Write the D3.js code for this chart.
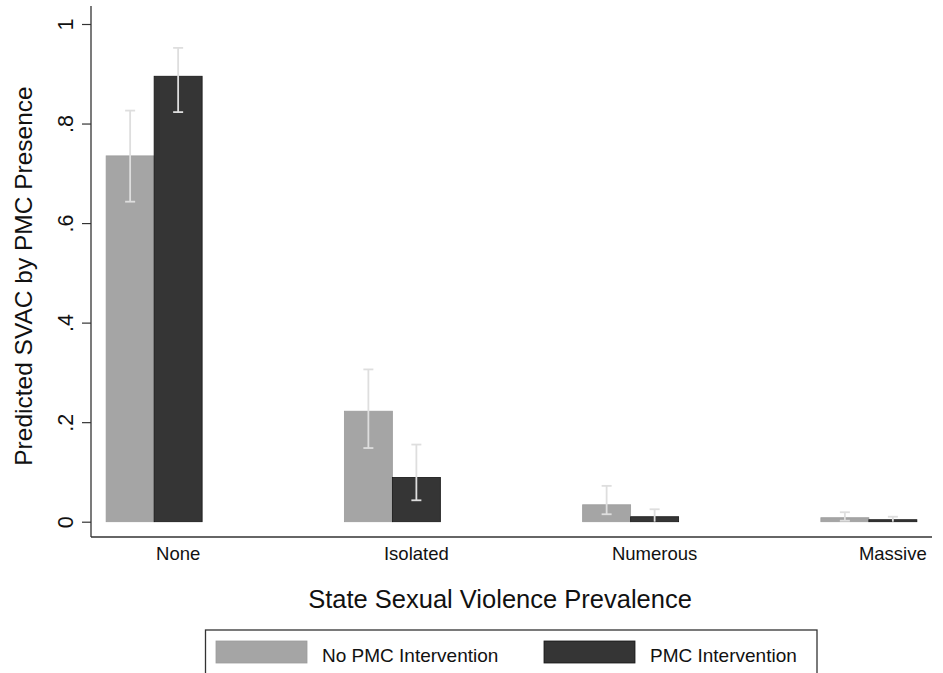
<!DOCTYPE html>
<html>
<head>
<meta charset="utf-8">
<script src="https://cdn.jsdelivr.net/npm/d3@7/dist/d3.min.js"></script>
<style>
  html, body { margin: 0; padding: 0; background: #ffffff; }
  svg { display: block; font-family: "Liberation Sans", Arial, Helvetica, sans-serif; }
</style>
</head>
<body>
<svg id="chart" width="943" height="673"></svg>
<script>
// Predicted probabilities by prevalence level, with 95% confidence bounds
const categories = ["None", "Isolated", "Numerous", "Massive"];
const seriesNames = ["No PMC Intervention", "PMC Intervention"];
const noPmc     = [0.735, 0.222, 0.034, 0.008];
const noPmcLow  = [0.643, 0.148, 0.015, 0.002];
const noPmcHigh = [0.826, 0.306, 0.072, 0.019];
const pmc       = [0.895, 0.089, 0.010, 0.004];
const pmcLow    = [0.823, 0.043, 0.000, 0.000];
const pmcHigh   = [0.952, 0.155, 0.025, 0.010];
const yTicks = [0, 0.2, 0.4, 0.6, 0.8, 1];
const yTickLabels = ["0", ".2", ".4", ".6", ".8", "1"];
const xTitle = "State Sexual Violence Prevalence";
const yTitle = "Predicted SVAC by PMC Presence";

const colors = { "No PMC Intervention": "#a5a5a5", "PMC Intervention": "#353535" };
const strokes = { "No PMC Intervention": "#9c9c9c", "PMC Intervention": "#161616" };

const rows = [];
categories.forEach((c, i) => {
  rows.push({ cat: c, s: seriesNames[0], v: noPmc[i], lo: noPmcLow[i], hi: noPmcHigh[i] });
  rows.push({ cat: c, s: seriesNames[1], v: pmc[i], lo: pmcLow[i], hi: pmcHigh[i] });
});

const svg = d3.select("#chart");
const plot = { left: 91, right: 932, top: 6, bottom: 537 };

const x = d3.scalePoint().domain(categories).range([plot.left, plot.right]).padding(0.265);
const xInner = d3.scaleBand().domain(seriesNames).range([-48, 48]).padding(0);
const y = d3.scaleLinear().domain([0, 1]).range([521.7, 24]);

// bars
svg.append("g").selectAll("rect").data(rows).join("rect")
  .attr("x", d => x(d.cat) + xInner(d.s))
  .attr("width", xInner.bandwidth())
  .attr("y", d => y(d.v))
  .attr("height", d => y(0) - y(d.v))
  .attr("fill", d => colors[d.s])
  .attr("stroke", d => strokes[d.s])
  .attr("stroke-width", 0.8);

// confidence interval caps
const ci = svg.append("g").attr("stroke", "#dedede").attr("stroke-width", 1.8).attr("fill", "none");
const cx = d => x(d.cat) + xInner(d.s) + xInner.bandwidth() / 2;
ci.selectAll("line.v").data(rows).join("line").attr("class", "v")
  .attr("x1", cx).attr("x2", cx)
  .attr("y1", d => y(d.lo)).attr("y2", d => y(d.hi));
ci.selectAll("line.hi").data(rows).join("line").attr("class", "hi")
  .attr("x1", d => cx(d) - 5).attr("x2", d => cx(d) + 5)
  .attr("y1", d => y(d.hi)).attr("y2", d => y(d.hi));
ci.selectAll("line.lo").data(rows.filter(d => d.lo > 0)).join("line").attr("class", "lo")
  .attr("x1", d => cx(d) - 5).attr("x2", d => cx(d) + 5)
  .attr("y1", d => y(d.lo)).attr("y2", d => y(d.lo));

// y axis
const yAxis = d3.axisLeft(y).tickValues(yTicks)
  .tickFormat((d, i) => yTickLabels[i]).tickSize(9).tickSizeOuter(0);
const gy = svg.append("g").attr("transform", `translate(${plot.left},0)`).call(yAxis);
gy.select(".domain").remove();
gy.selectAll(".tick line").attr("stroke", "#333").attr("stroke-width", 1.2);
gy.selectAll(".tick text")
  .attr("font-size", 21.5).attr("fill", "#111")
  .attr("text-anchor", "middle")
  .attr("x", null).attr("dy", null)
  .attr("transform", "translate(-18,0) rotate(-90)");

svg.append("line")
  .attr("x1", plot.left).attr("x2", plot.left)
  .attr("y1", plot.top).attr("y2", plot.bottom)
  .attr("stroke", "#333").attr("stroke-width", 1.3);

// x axis (labels centred under the second bar of each group)
svg.append("line")
  .attr("x1", plot.left).attr("x2", plot.right)
  .attr("y1", plot.bottom).attr("y2", plot.bottom)
  .attr("stroke", "#333").attr("stroke-width", 1.3);
svg.append("g").selectAll("text").data(categories).join("text")
  .attr("x", d => x(d) + xInner(seriesNames[1]) + xInner.bandwidth() / 2)
  .attr("y", 560)
  .attr("text-anchor", "middle")
  .attr("font-size", 18.5).attr("fill", "#111")
  .text(d => d);

// axis titles
svg.append("text")
  .attr("x", 500).attr("y", 608)
  .attr("text-anchor", "middle").attr("font-size", 25.5).attr("fill", "#111")
  .text(xTitle);
svg.append("text")
  .attr("transform", `translate(32,276) rotate(-90)`)
  .attr("text-anchor", "middle").attr("font-size", 24.5).attr("fill", "#111")
  .text(yTitle);

// legend
const lg = svg.append("g");
lg.append("rect")
  .attr("x", 205.5).attr("y", 630).attr("width", 611.5).attr("height", 60)
  .attr("fill", "#fff").attr("stroke", "#333").attr("stroke-width", 1.3);
const legendItems = [
  { s: seriesNames[0], sx: 216, tx: 322 },
  { s: seriesNames[1], sx: 544, tx: 650 }
];
lg.selectAll("rect.sw").data(legendItems).join("rect").attr("class", "sw")
  .attr("x", d => d.sx).attr("y", 641).attr("width", 91).attr("height", 22)
  .attr("fill", d => colors[d.s]).attr("stroke", d => strokes[d.s]).attr("stroke-width", 0.8);
lg.selectAll("text").data(legendItems).join("text")
  .attr("x", d => d.tx).attr("y", 662)
  .attr("font-size", 19).attr("fill", "#111")
  .text(d => d.s);
</script>
</body>
</html>
